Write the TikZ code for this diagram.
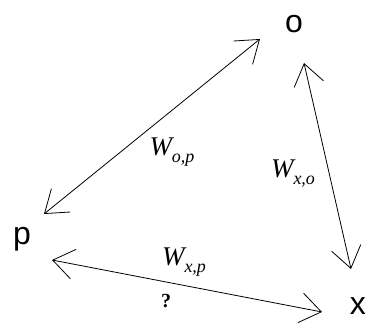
\documentclass[tikz,border=0pt]{standalone}
\usepackage{fontspec}
\setmainfont{Liberation Serif}
\newfontfamily\lblfont{Liberation Sans}
\usetikzlibrary{arrows.meta,calc}
\tikzset{
  vert/.style={font=\lblfont\fontsize{32}{33}\selectfont, inner sep=0pt},
  wlbl/.style={font=\fontsize{27}{28}\selectfont\itshape, inner sep=0pt},
  arr/.style={line width=0.8pt, {Straight Barb[length=21pt,width=30pt]}-{Straight Barb[length=21pt,width=30pt]}},
}
\newcommand{\wsub}[2]{W\raisebox{-7pt}{\fontsize{18}{18}\selectfont #1,#2}}
\begin{document}
\begin{tikzpicture}[x=1pt,y=-1pt]
\useasboundingbox (0,0) rectangle (368,325);
\node[vert] (o) at (294,24) {o};
\node[vert] (p) at (22,239) {p};
\node[vert] (x) at (358,306) {x};
\draw[arr] ($(p)+(22,-25)$) -- ($(o)+(-34,15)$);
\draw[arr] ($(o)+(10,39)$) -- ($(x)+(-7,-37)$);
\draw[arr] ($(p)+(30,21)$) -- ($(x)+(-36,6)$);
\node[wlbl] (wop) at (172,152) {\wsub{o}{p}};
\node[wlbl] (wxo) at (293,174) {\wsub{x}{o}};
\node[wlbl] (wxp) at (184,262) {\wsub{x}{p}};
\node[font=\fontsize{20}{20}\selectfont\bfseries, inner sep=0pt] (q) at (166,301) {?};
\end{tikzpicture}
\end{document}
